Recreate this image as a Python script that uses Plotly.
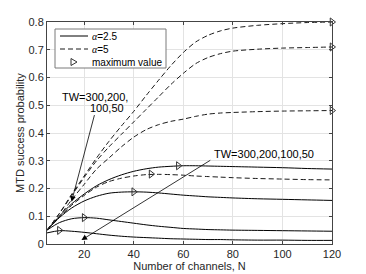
import plotly.graph_objects as go

# ---------------- data ----------------
N = [5, 10, 15, 20, 25, 30, 35, 40, 45, 50, 55, 60, 65, 70, 75, 80, 90, 100, 110, 120]
TW = [300, 200, 100, 50]

# alpha = 2.5 (solid)
a25_tw300 = [0.050, 0.100, 0.145, 0.180, 0.210, 0.232, 0.249, 0.262, 0.271, 0.277, 0.280, 0.282, 0.282, 0.281, 0.280, 0.279, 0.277, 0.275, 0.272, 0.270]
a25_tw200 = [0.050, 0.095, 0.130, 0.155, 0.172, 0.183, 0.187, 0.188, 0.187, 0.184, 0.180, 0.176, 0.173, 0.170, 0.168, 0.166, 0.163, 0.161, 0.159, 0.157]
a25_tw100 = [0.050, 0.077, 0.091, 0.095, 0.093, 0.087, 0.081, 0.075, 0.069, 0.064, 0.060, 0.056, 0.054, 0.052, 0.051, 0.050, 0.049, 0.048, 0.047, 0.046]
a25_tw50  = [0.040, 0.048, 0.046, 0.042, 0.037, 0.032, 0.028, 0.025, 0.023, 0.021, 0.019, 0.018, 0.017, 0.016, 0.016, 0.015, 0.014, 0.014, 0.013, 0.013]

# alpha = 5 (dashed)
a5_tw300 = [0.050, 0.110, 0.180, 0.245, 0.310, 0.370, 0.425, 0.478, 0.535, 0.590, 0.643, 0.690, 0.728, 0.752, 0.768, 0.778, 0.788, 0.794, 0.798, 0.800]
a5_tw200 = [0.050, 0.110, 0.175, 0.240, 0.300, 0.350, 0.395, 0.440, 0.485, 0.530, 0.575, 0.615, 0.650, 0.672, 0.686, 0.695, 0.702, 0.706, 0.708, 0.710]
a5_tw100 = [0.050, 0.100, 0.160, 0.215, 0.270, 0.310, 0.350, 0.385, 0.412, 0.430, 0.442, 0.450, 0.460, 0.468, 0.472, 0.474, 0.477, 0.479, 0.480, 0.481]
a5_tw50  = [0.050, 0.095, 0.140, 0.175, 0.205, 0.225, 0.237, 0.245, 0.250, 0.251, 0.250, 0.248, 0.245, 0.243, 0.241, 0.239, 0.236, 0.234, 0.232, 0.231]

# maximum values
max_x = [58, 40, 20, 10, 120, 120, 120, 47]
max_y = [0.282, 0.188, 0.095, 0.049, 0.800, 0.710, 0.481, 0.252]

x_ticks = [20, 40, 60, 80, 100, 120]
y_ticks = [0, 0.1, 0.2, 0.3, 0.4, 0.5, 0.6, 0.7, 0.8]
y_tick_labels = ["0", "0.1", "0.2", "0.3", "0.4", "0.5", "0.6", "0.7", "0.8"]

x_title = "Number of channels, N"
y_title = "MTD success probability"
label_left_1 = "TW=300,200,"
label_left_2 = "100,50"
label_right = "TW=300,200,100,50"
legend_labels = ["=2.5", "=5", "maximum value"]

# ---------------- figure ----------------
FONT = "Liberation Sans, Arial, sans-serif"
W, H = 366, 274
ML, MR, MT, MB = 47, 34, 22, 30
PW, PH = W - ML - MR, H - MT - MB


def px(xp):
    return (xp - ML) / PW


def py(yp):
    return (H - MB - yp) / PH


fig = go.Figure()

solid = [a25_tw300, a25_tw200, a25_tw100, a25_tw50]
dashed = [a5_tw300, a5_tw200, a5_tw100, a5_tw50]
DASH = "5px,3px"

for ys in solid:
    fig.add_trace(go.Scatter(
        x=N, y=ys, mode="lines", line=dict(color="#000000", width=1, shape="spline", smoothing=0.8),
        showlegend=False, hoverinfo="skip"))
for ys in dashed:
    fig.add_trace(go.Scatter(
        x=N, y=ys, mode="lines", line=dict(color="#1a1a1a", width=1, dash=DASH, shape="spline", smoothing=0.8),
        showlegend=False, hoverinfo="skip"))
fig.add_trace(go.Scatter(
    x=max_x, y=max_y, mode="markers",
    marker=dict(symbol="triangle-right-open", size=7, color="#333333", line=dict(width=1, color="#333333")),
    showlegend=False, cliponaxis=False))

alpha_html = '<span style="font-family:Liberation Serif"><i>α</i></span>'
annotations = [
    dict(x=14.9, y=0.152, ax=24.3, ay=0.47, axref="x", ayref="y", xref="x", yref="y",
         text="", showarrow=True, arrowhead=2, arrowsize=1.4, arrowwidth=0.8, arrowcolor="#000"),
    dict(x=18.9, y=0.014, ax=71.5, ay=0.305, axref="x", ayref="y", xref="x", yref="y",
         text="", showarrow=True, arrowhead=2, arrowsize=1.4, arrowwidth=0.8, arrowcolor="#000"),
    dict(x=24.3, y=0.529, xref="x", yref="y", text=label_left_1, showarrow=False,
         font=dict(family=FONT, size=11, color="#000")),
    dict(x=29.2, y=0.49, xref="x", yref="y", text=label_left_2, showarrow=False,
         font=dict(family=FONT, size=11, color="#000")),
    dict(x=92.7, y=0.325, xref="x", yref="y", text=label_right, showarrow=False,
         font=dict(family=FONT, size=11, color="#000")),
    # y-axis title
    dict(x=px(20), y=0.5, xref="paper", yref="paper", text=y_title, textangle=-90, showarrow=False,
         xanchor="center", yanchor="middle", font=dict(family=FONT, size=11, color="#262626")),
]

# manual compact legend (MATLAB style)
rows_y = [36, 49, 62]
leg_text = [alpha_html + legend_labels[0], alpha_html + legend_labels[1], legend_labels[2]]
for ry, t in zip(rows_y, leg_text):
    annotations.append(dict(x=px(90), y=py(ry), xref="paper", yref="paper", xanchor="left", yanchor="middle",
                            text=t, showarrow=False, font=dict(family=FONT, size=10, color="#000")))

shapes = [
    dict(type="rect", xref="paper", yref="paper", x0=px(55), x1=px(166), y0=py(29), y1=py(68),
         line=dict(color="#7a7a7a", width=1), fillcolor="white", layer="above"),
    dict(type="line", xref="paper", yref="paper", x0=px(60), x1=px(88), y0=py(36), y1=py(36),
         line=dict(color="#000", width=1), layer="above"),
    dict(type="line", xref="paper", yref="paper", x0=px(60), x1=px(88), y0=py(49), y1=py(49),
         line=dict(color="#1a1a1a", width=1, dash=DASH), layer="above"),
    dict(type="path", xref="paper", yref="paper",
         path=f"M {px(71)},{py(58.5)} L {px(71)},{py(65.5)} L {px(77)},{py(62)} Z",
         line=dict(color="#333", width=1), layer="above"),
]

fig.update_layout(
    width=W, height=H,
    margin=dict(l=ML, r=MR, t=MT, b=MB),
    paper_bgcolor="white", plot_bgcolor="white",
    font=dict(family=FONT, size=11, color="#262626"),
    annotations=annotations, shapes=shapes,
    showlegend=False,
)
fig.update_xaxes(
    range=[5, 120], tickvals=x_ticks, ticks="inside", ticklen=3, tickcolor="#444",
    showline=True, linecolor="#444", linewidth=1, mirror="ticks",
    showgrid=True, gridcolor="#e3e3e3", gridwidth=1, zeroline=False, automargin=False,
    title=dict(text=x_title, standoff=2, font=dict(size=11)),
    tickfont=dict(size=11),
)
fig.update_yaxes(
    range=[0, 0.8], tickvals=y_ticks, ticktext=y_tick_labels, ticks="inside", ticklen=3, tickcolor="#444",
    showline=True, linecolor="#444", linewidth=1, mirror="ticks",
    showgrid=True, gridcolor="#e3e3e3", gridwidth=1, zeroline=False, automargin=False,
    tickfont=dict(size=11),
)

fig.write_html("out.html", config={"displayModeBar": False},
               post_script="document.body.style.margin='0';")
